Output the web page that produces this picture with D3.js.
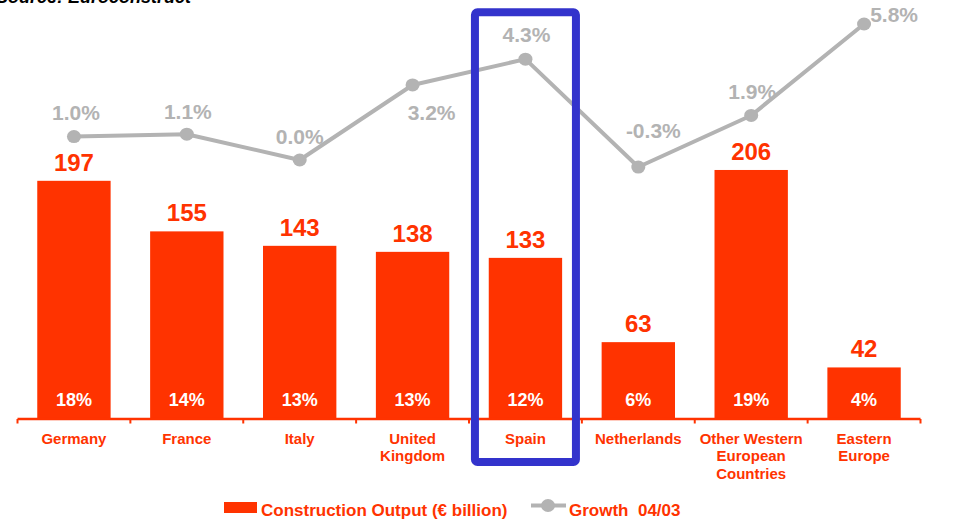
<!DOCTYPE html>
<html>
<head>
<meta charset="utf-8">
<script src="https://cdn.jsdelivr.net/npm/d3@7"></script>
<style>
  html, body { margin: 0; padding: 0; background: #ffffff; }
  svg { display: block; font-family: "Liberation Sans", Arial, sans-serif; }
</style>
</head>
<body>
<svg id="chart" width="978" height="519"></svg>
<script>
// Construction output by market (€ billion), share of total, and growth 04/03
const categories = [
  ["Germany"],
  ["France"],
  ["Italy"],
  ["United", "Kingdom"],
  ["Spain"],
  ["Netherlands"],
  ["Other Western", "European", "Countries"],
  ["Eastern", "Europe"]
];
const output = [197, 155, 143, 138, 133, 63, 206, 42];
const share = [18, 14, 13, 13, 12, 6, 19, 4];
const growth = [1.0, 1.1, 0.0, 3.2, 4.3, -0.3, 1.9, 5.8];

// Placement of each growth label relative to its point (dx, dy of the label centre)
const growthLabelOffset = [
  [2, -24], [1, -23], [0, -24], [19, 28],
  [1, -25], [15, -37], [1, -24], [30, -10]
];

const RED = "#FF3300";
const GREY = "#B3B3B3";
const BLUE = "#3333CC";

const svg = d3.select("#chart");
const keys = d3.range(categories.length);

const x = d3.scaleBand().domain(keys).range([17.5, 920.5]).padding(0);
const barW = x.bandwidth() * 0.65;
const cx = i => x(i) + x.bandwidth() / 2;

const y = d3.scaleLinear().domain([0, 250]).range([418, 117]);
const g = d3.scaleLinear().domain([0, 5.8]).range([160, 24]);

// Source note (partly above the top edge)
svg.append("text")
  .attr("x", -4).attr("y", 3)
  .attr("font-size", 18).attr("font-weight", "bold").attr("font-style", "italic")
  .attr("fill", "#000")
  .text("Source: Euroconstruct");

// Bars
svg.append("g").selectAll("rect").data(keys).join("rect")
  .attr("x", i => cx(i) - barW / 2)
  .attr("y", i => y(output[i]))
  .attr("width", barW)
  .attr("height", i => y(0) - y(output[i]))
  .attr("fill", RED);

// Output values above bars
svg.append("g").selectAll("text").data(keys).join("text")
  .attr("x", cx)
  .attr("y", i => y(output[i]) - 10)
  .attr("text-anchor", "middle")
  .attr("font-size", 24).attr("font-weight", "bold")
  .attr("fill", RED)
  .text(i => output[i]);

// Share inside bars
svg.append("g").selectAll("text").data(keys).join("text")
  .attr("x", cx)
  .attr("y", 406)
  .attr("text-anchor", "middle")
  .attr("font-size", 18).attr("font-weight", "bold")
  .attr("fill", "#fff")
  .text(i => share[i] + "%");

// Growth line
const line = d3.line().x(i => cx(i)).y(i => g(growth[i]));
svg.append("path")
  .datum(keys)
  .attr("d", line)
  .attr("fill", "none")
  .attr("stroke", GREY)
  .attr("stroke-width", 4)
  .attr("stroke-linejoin", "round");

svg.append("g").selectAll("ellipse").data(keys).join("ellipse")
  .attr("cx", cx)
  .attr("cy", i => g(growth[i]))
  .attr("rx", 7).attr("ry", 6.5)
  .attr("fill", GREY);

svg.append("g").selectAll("text").data(keys).join("text")
  .attr("x", i => cx(i) + growthLabelOffset[i][0])
  .attr("y", i => g(growth[i]) + growthLabelOffset[i][1] + 7.5)
  .attr("text-anchor", "middle")
  .attr("font-size", 21).attr("font-weight", "bold")
  .attr("fill", GREY)
  .text(i => growth[i].toFixed(1) + "%");

// Category axis
const axis = svg.append("g");
axis.append("line")
  .attr("x1", x.range()[0]).attr("x2", x.range()[1])
  .attr("y1", 419).attr("y2", 419)
  .attr("stroke", RED).attr("stroke-width", 2.5);
const edges = keys.map(i => x(i)).concat([x.range()[1]]);
axis.selectAll("line.tick").data(edges).join("line")
  .attr("class", "tick")
  .attr("x1", d => d).attr("x2", d => d)
  .attr("y1", 419).attr("y2", 423.5)
  .attr("stroke", RED).attr("stroke-width", 2);
const labels = axis.selectAll("text").data(keys).join("text")
  .attr("text-anchor", "middle")
  .attr("font-size", 15).attr("font-weight", "bold")
  .attr("fill", RED);
labels.selectAll("tspan").data(i => categories[i].map(t => ({ t, i }))).join("tspan")
  .attr("x", d => cx(d.i))
  .attr("y", (d, k) => 444 + k * 17.3)
  .text(d => d.t);

// Highlight frame around Spain
const si = categories.findIndex(c => c[0] === "Spain");
svg.append("rect")
  .attr("x", cx(si) - 50.5).attr("y", 12.3)
  .attr("width", 101).attr("height", 449.7)
  .attr("rx", 2.5)
  .attr("fill", "none")
  .attr("stroke", BLUE).attr("stroke-width", 8);

// Legend
const lg = svg.append("g");
lg.append("rect").attr("x", 224).attr("y", 502).attr("width", 33).attr("height", 11).attr("fill", RED);
lg.append("text").attr("x", 261).attr("y", 515.5)
  .attr("font-size", 17).attr("font-weight", "bold").attr("fill", RED)
  .text("Construction Output (€ billion)");
lg.append("line").attr("x1", 531).attr("x2", 566).attr("y1", 505.5).attr("y2", 505.5)
  .attr("stroke", GREY).attr("stroke-width", 4);
lg.append("ellipse").attr("cx", 548).attr("cy", 505.5).attr("rx", 7).attr("ry", 6.5).attr("fill", GREY);
lg.append("text").attr("x", 569).attr("y", 515.5)
  .attr("font-size", 17).attr("font-weight", "bold").attr("fill", RED)
  .attr("xml:space", "preserve").style("white-space", "pre")
  .text("Growth  04/03");
</script>
</body>
</html>
